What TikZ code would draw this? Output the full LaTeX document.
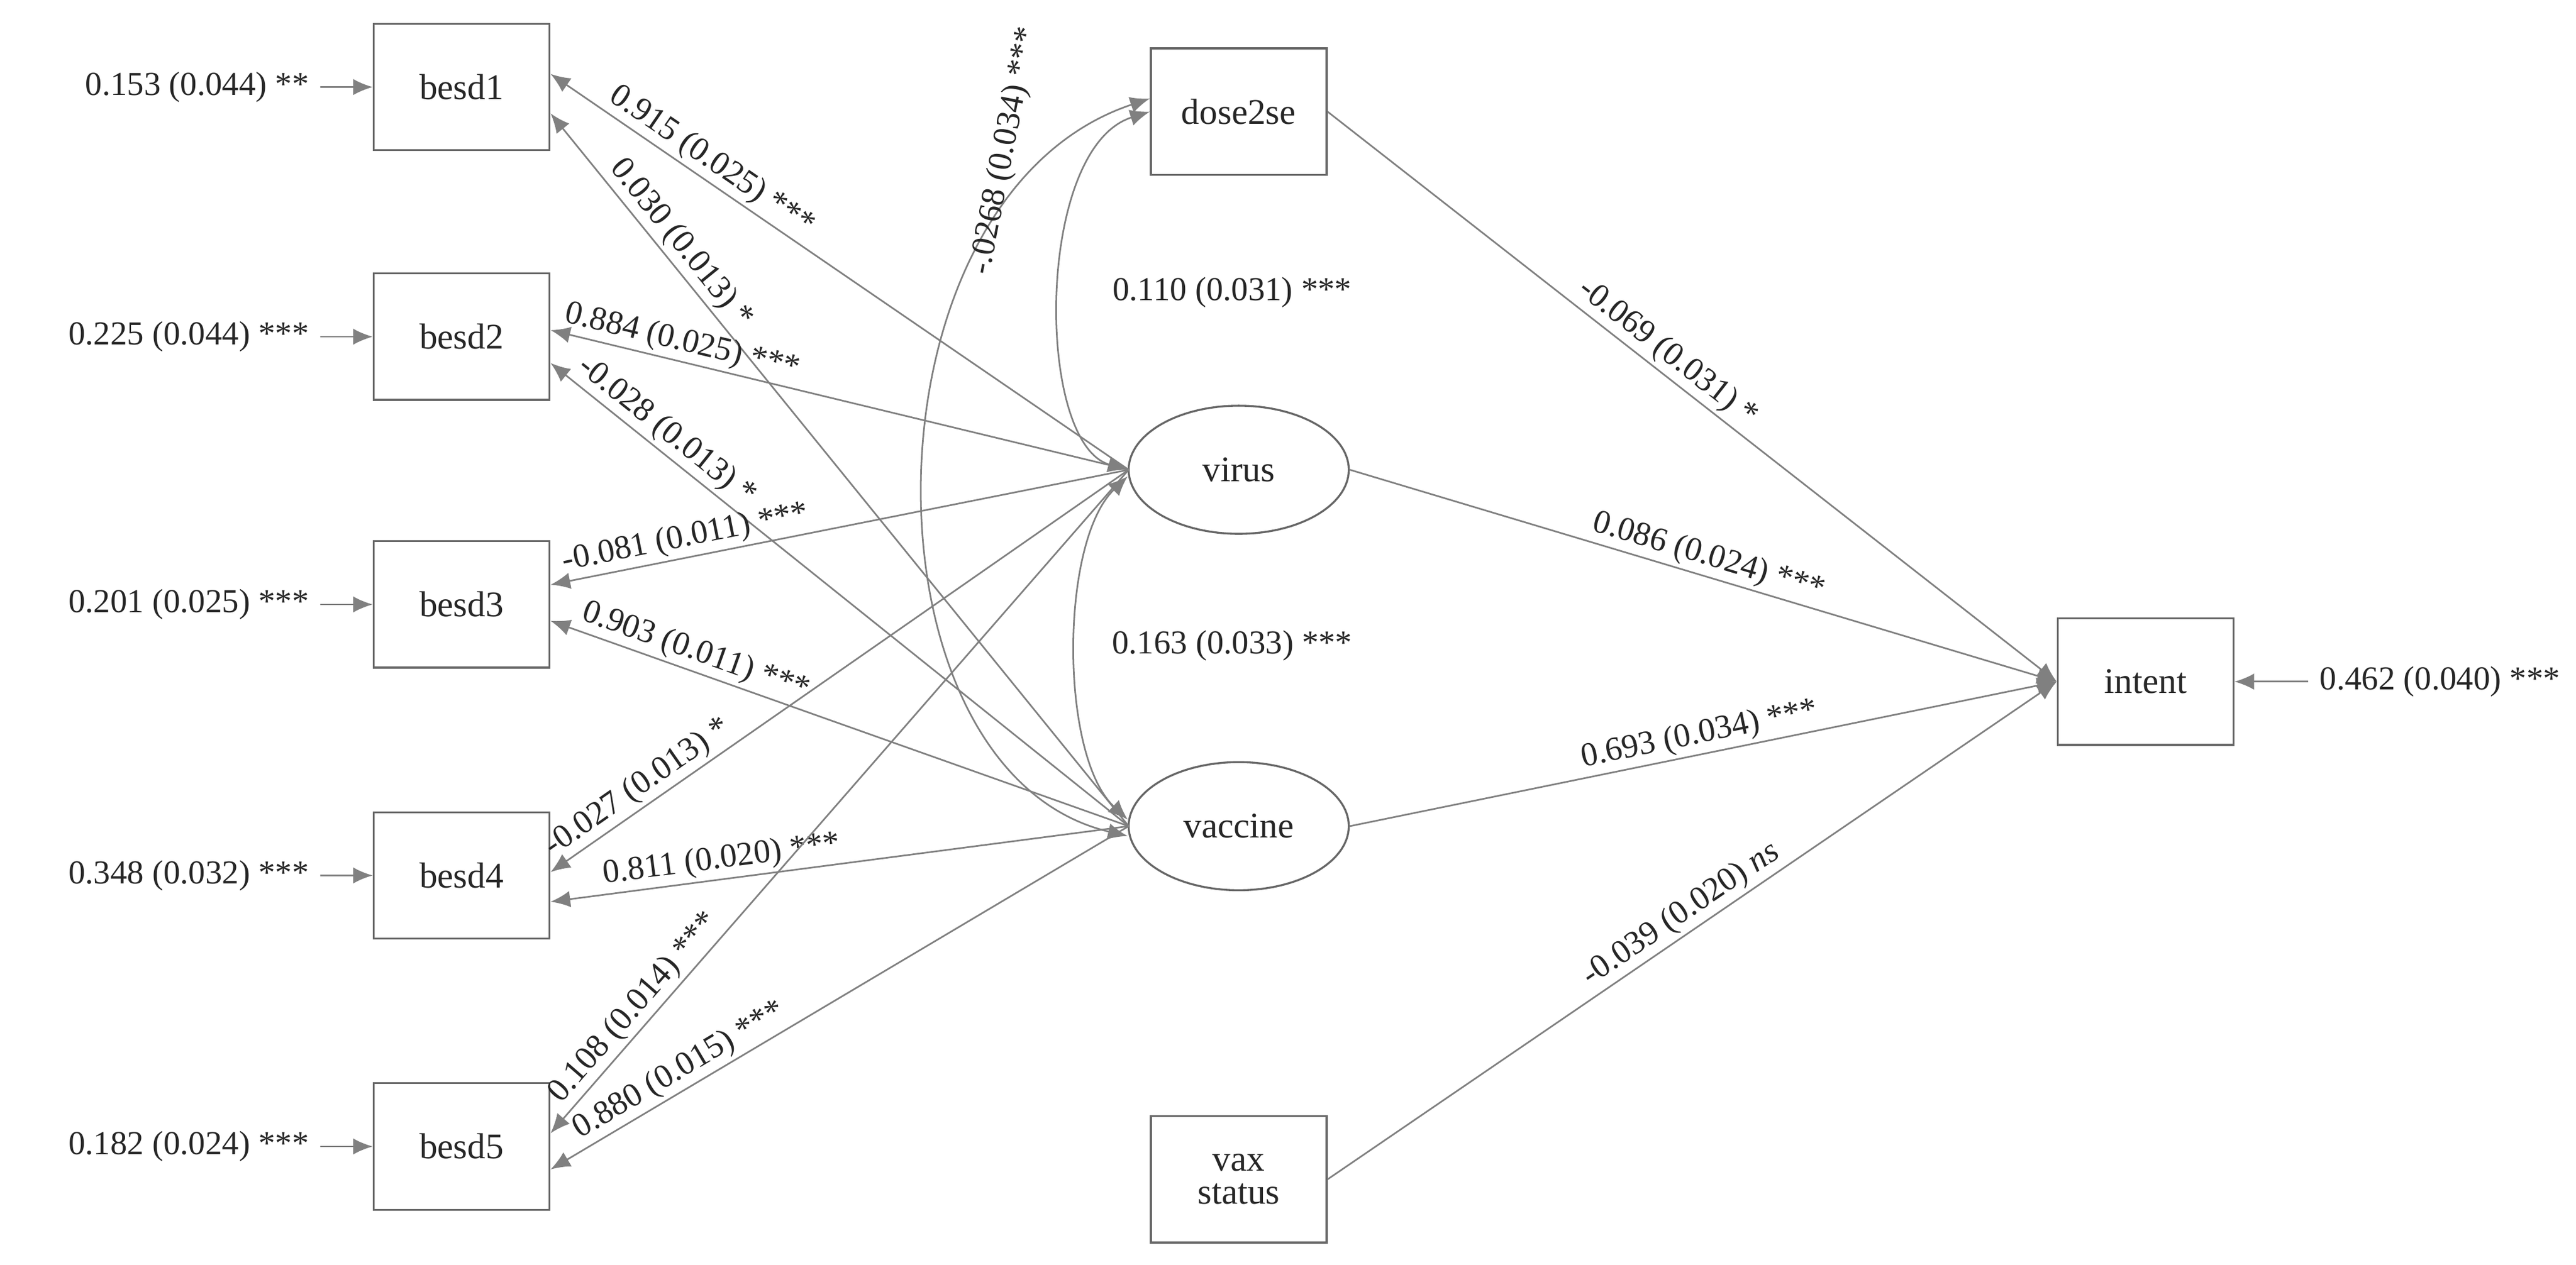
\documentclass[tikz,border=0pt]{standalone}
\usepackage{fontspec}
\setmainfont{Liberation Serif}
\usetikzlibrary{arrows.meta,shapes.geometric}
\begin{document}
\begin{tikzpicture}[x=0.5pt,y=-0.5pt,
  every node/.style={font=\fontsize{10.2}{12}\selectfont, text=black!85},
  box/.style={draw=black!60, line width=0.6pt, minimum width=53.5pt, minimum height=38.5pt, inner sep=0pt, align=center, font=\fontsize{11}{12}\selectfont},
  lat/.style={draw=black!60, line width=0.6pt, ellipse, minimum width=67pt, minimum height=39pt, inner sep=0pt, font=\fontsize{11}{12}\selectfont},
  ln/.style={draw=black!50, line width=0.5pt},
  ar/.style={ln, -{Latex[length=6pt,width=5pt]}},
  lab/.style={sloped, above, inner sep=1pt}]
\useasboundingbox (0,0) rectangle (1568,770);
\node[box] (b1) at (281,53) {besd1};
\node[box] (b2) at (281,205) {besd2};
\node[box] (b3) at (281,368) {besd3};
\node[box] (b4) at (281,533) {besd4};
\node[box] (b5) at (281,698) {besd5};
\node[box] (d2) at (754,68) {dose2se};
\node[lat] (vi) at (754,286) {virus};
\node[lat] (va) at (754,503) {vaccine};
\node[box] (in) at (1306,415) {intent};
\node[box] (vs) at (754,718) {vax\\[-2pt]status};
% residuals
\node[anchor=east] (r1) at (195,53) {0.153 (0.044) **};
\node[anchor=east] (r2) at (195,205) {0.225 (0.044) ***};
\node[anchor=east] (r3) at (195,368) {0.201 (0.025) ***};
\node[anchor=east] (r4) at (195,533) {0.348 (0.032) ***};
\node[anchor=east] (r5) at (195,698) {0.182 (0.024) ***};
\node[anchor=west] (ri) at (1405,415) {0.462 (0.040) ***};
\foreach \i in {1,...,5} {\draw[ar] (r\i.east) -- (b\i.west);}
\draw[ar] (ri.west) -- (in.east);
% loadings
\coordinate (vw) at (687,286);
\coordinate (aw) at (687,503);
\draw[ar] (vw) -- ([yshift=4pt]b1.east) node[lab,pos=0.74] {0.915 (0.025) ***};
\draw[ar] (aw) -- ([yshift=-8pt]b1.east) node[lab,pos=0.8] {0.030 (0.013) *};
\draw[ar] (vw) -- ([yshift=2pt]b2.east) node[lab,pos=0.78] {0.884 (0.025) ***};
\draw[ar] (aw) -- ([yshift=-8pt]b2.east) node[lab,pos=0.82] {-0.028 (0.013) *};
\draw[ar] (vw) -- ([yshift=6pt]b3.east) node[lab,pos=0.76] {-0.081 (0.011) ***};
\draw[ar] (aw) -- ([yshift=-5pt]b3.east) node[lab,pos=0.76] {0.903 (0.011) ***};
\draw[ar] (vw) -- ([yshift=1pt]b4.east) node[lab,pos=0.83] {-0.027 (0.013) *};
\draw[ar] (aw) -- ([yshift=-8pt]b4.east) node[lab,pos=0.7] {0.811 (0.020) ***};
\draw[ar] (vw) -- ([yshift=4pt]b5.east) node[lab,pos=0.83] {0.108 (0.014) ***};
\draw[ar] (aw) -- ([yshift=-7pt]b5.east) node[lab,pos=0.76] {0.880 (0.015) ***};
% covariances
\draw[ar,{Latex[length=6pt,width=5pt]}-{Latex[length=6pt,width=5pt]}] (d2.west) .. controls (630,90) and (630,270) .. (vi.west);
\draw[ar,{Latex[length=6pt,width=5pt]}-{Latex[length=6pt,width=5pt]}] ([yshift=-2pt]vi.west) .. controls (645,330) and (645,460) .. ([yshift=2pt]va.west);
\draw[ar,{Latex[length=6pt,width=5pt]}-{Latex[length=6pt,width=5pt]}] ([yshift=4pt]d2.west) .. controls (520,120) and (520,470) .. ([yshift=-3pt]va.west);
\node (c1) at (750,178) {0.110 (0.031) ***};
\node (c2) at (750,393) {0.163 (0.033) ***};
\node[rotate=79] (c3) at (612,92) {-.0268 (0.034) ***};
% regressions
\draw[ar] (d2.east) -- (in.west) node[lab,pos=0.45] {-0.069 (0.031) *};
\draw[ar] (vi.east) -- (in.west) node[lab,pos=0.5] {0.086 (0.024) ***};
\draw[ar] (va.east) -- (in.west) node[lab,pos=0.5] {0.693 (0.034) ***};
\draw[ar] (vs.east) -- (in.west) node[lab,pos=0.5] {-0.039 (0.020) \textit{ns}};
\end{tikzpicture}
\end{document}
